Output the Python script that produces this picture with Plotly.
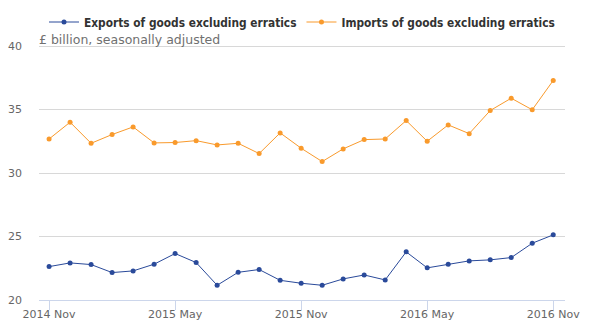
import plotly.graph_objects as go

months = ["2014 Nov", "2014 Dec", "2015 Jan", "2015 Feb", "2015 Mar", "2015 Apr",
          "2015 May", "2015 Jun", "2015 Jul", "2015 Aug", "2015 Sep", "2015 Oct",
          "2015 Nov", "2015 Dec", "2016 Jan", "2016 Feb", "2016 Mar", "2016 Apr",
          "2016 May", "2016 Jun", "2016 Jul", "2016 Aug", "2016 Sep", "2016 Oct",
          "2016 Nov"]

exports = [22.63, 22.92, 22.79, 22.16, 22.29, 22.82, 23.66, 22.95, 21.16, 22.18,
           22.40, 21.55, 21.32, 21.16, 21.66, 21.97, 21.58, 23.79, 22.53, 22.82,
           23.08, 23.16, 23.34, 24.47, 25.13]

imports = [32.68, 34.00, 32.34, 33.03, 33.63, 32.37, 32.40, 32.55, 32.21, 32.34,
           31.53, 33.16, 31.95, 30.90, 31.90, 32.63, 32.68, 34.13, 32.50, 33.79,
           33.10, 34.92, 35.89, 34.98, 37.29]

tick_labels = ["2014 Nov", "2015 May", "2015 Nov", "2016 May", "2016 Nov"]
y_ticks = [20, 25, 30, 35, 40]

FONT = "DejaVu Sans"
LEGEND_FONT = "DejaVu Sans Condensed, DejaVu Sans"

fig = go.Figure()
fig.add_trace(go.Scatter(
    x=months, y=exports, mode="lines+markers",
    name="Exports of goods excluding erratics",
    line=dict(color="#2a4a9a", width=1),
    marker=dict(color="#2a4a9a", size=5),
))
fig.add_trace(go.Scatter(
    x=months, y=imports, mode="lines+markers",
    name="Imports of goods excluding erratics",
    line=dict(color="#f99a2c", width=1),
    marker=dict(color="#f99a2c", size=5),
))

fig.update_layout(
    width=600, height=336,
    margin=dict(l=39, r=35, t=45, b=36, autoexpand=False),
    paper_bgcolor="white", plot_bgcolor="white",
    font=dict(family=FONT, size=11, color="#666666"),
    showlegend=True,
    legend=dict(
        orientation="h", x=0.5, xanchor="center",
        yref="container", y=1 - 22 / 336, yanchor="middle",
        font=dict(family=LEGEND_FONT, size=11.8, color="#333333", weight="bold"),
        itemwidth=30, bgcolor="rgba(0,0,0,0)",
    ),
    xaxis=dict(
        type="category", categoryorder="array", categoryarray=months,
        range=[-0.48, 24.56],
        tickmode="array", tickvals=tick_labels, ticktext=tick_labels,
        ticks="outside", ticklen=9, tickcolor="#ccd6eb", tickwidth=1,
        showline=True, linecolor="#ccd6eb", linewidth=1,
        showgrid=False, zeroline=False,
        ticklabelstandoff=-5,
        tickfont=dict(family=FONT, size=11, color="#666666"),
    ),
    yaxis=dict(
        range=[20, 40.08], tickvals=y_ticks,
        showgrid=True, gridcolor="#d8d8d8", gridwidth=1,
        zeroline=False, showline=False, ticks="",
        ticklabelstandoff=16,
        tickfont=dict(family=FONT, size=11, color="#666666"),
    ),
    annotations=[dict(
        text="£ billion, seasonally adjusted",
        xref="paper", yref="y", x=0, y=40,
        xanchor="left", yanchor="bottom", showarrow=False,
        xshift=-2, yshift=-3,
        font=dict(family=FONT, size=12.5, color="#707070"),
    )],
)

fig.write_html("out.html")
